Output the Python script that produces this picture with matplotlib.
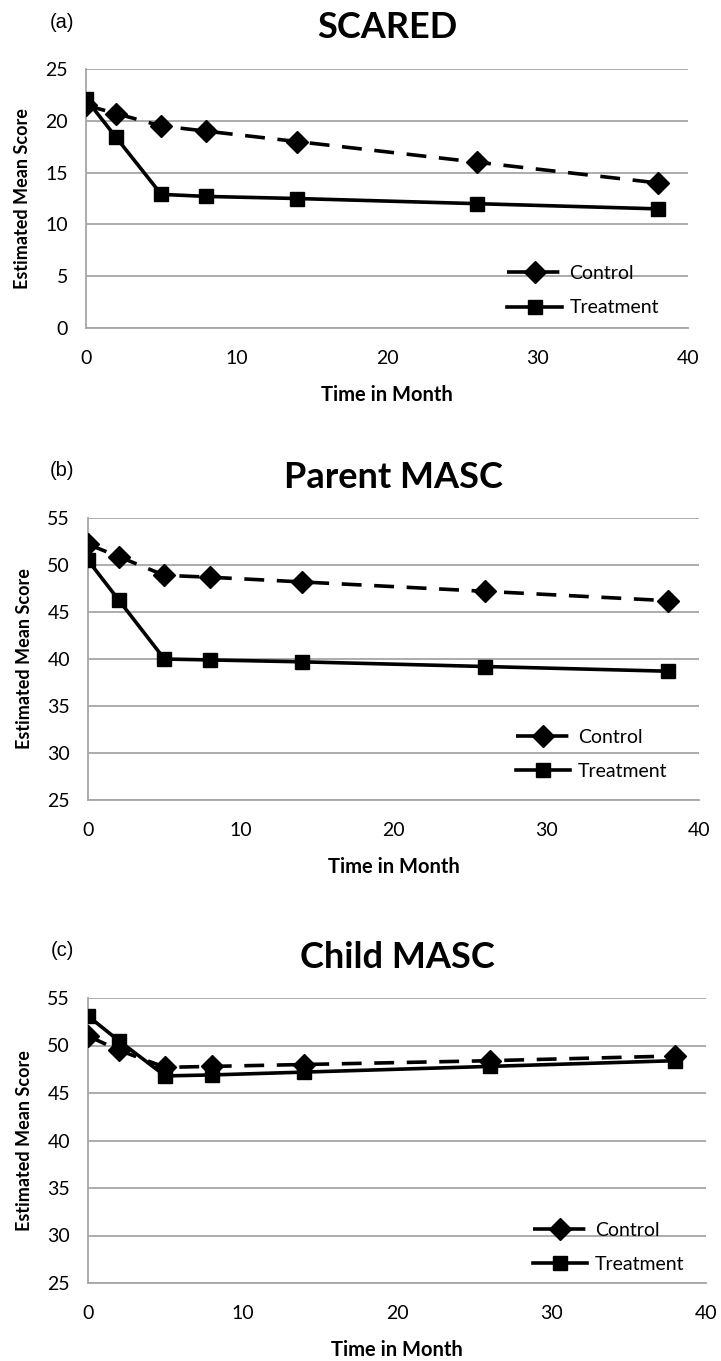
import matplotlib
matplotlib.use("Agg")
import matplotlib.pyplot as plt

plt.rcParams['font.family'] = ['Lato', 'DejaVu Sans']

# time points (months)
months = [0, 2, 5, 8, 14, 26, 38]

# estimated mean scores
scared_control = [21.5, 20.7, 19.5, 19.0, 18.0, 16.0, 14.0]
scared_treat = [22.1, 18.4, 12.9, 12.7, 12.5, 12.0, 11.5]
parent_control = [52.2, 50.9, 48.9, 48.7, 48.2, 47.2, 46.2]
parent_treat = [50.5, 46.3, 40.0, 39.9, 39.7, 39.2, 38.7]
child_control = [51.0, 49.5, 47.7, 47.8, 48.0, 48.4, 48.9]
child_treat = [53.1, 50.5, 46.8, 46.9, 47.2, 47.8, 48.4]

titles = ['SCARED', 'Parent MASC', 'Child MASC']
letters = ['(a)', '(b)', '(c)']
yticks = [[0, 5, 10, 15, 20, 25], [25, 30, 35, 40, 45, 50, 55], [25, 30, 35, 40, 45, 50, 55]]
xticks = [0, 10, 20, 30, 40]

W, H = 721, 1361
fig = plt.figure(figsize=(W / 100, H / 100), dpi=100)

# axes boxes in pixels: left, right, top, bottom
boxes = [(86, 688, 69, 328), (88, 699, 518, 800), (88, 706, 998, 1283)]
legend_pos = [(0.70, 0.045), (0.70, 0.07), (0.72, 0.035)]
data = [(scared_control, scared_treat), (parent_control, parent_treat), (child_control, child_treat)]

grid_col = '#a6a6a6'

for i in range(3):
    l, r, t, b = boxes[i]
    ax = fig.add_axes([l / W, 1 - b / H, (r - l) / W, (b - t) / H])
    ctrl, trt = data[i]
    ax.plot(months, ctrl, color='black', lw=2.6, dashes=(5.5, 3.5), marker='D', ms=11,
            label='Control', zorder=3)
    ax.plot(months, trt, color='black', lw=2.6, marker='s', ms=10,
            label='Treatment', zorder=3)
    ax.set_xlim(0, 40)
    ax.set_ylim(yticks[i][0], yticks[i][-1])
    ax.set_xticks(xticks)
    ax.set_yticks(yticks[i])
    ax.yaxis.grid(True, color=grid_col, lw=1.3)
    ax.set_axisbelow(True)
    for s in ['top', 'right']:
        ax.spines[s].set_visible(False)
    for s in ['left', 'bottom']:
        ax.spines[s].set_color(grid_col)
        ax.spines[s].set_linewidth(1.3)
    ax.tick_params(axis='both', length=0, labelsize=14)
    ax.tick_params(axis='y', pad=13)
    ax.tick_params(axis='x', pad=16)
    ax.set_xlabel('Time in Month', fontsize=14.5, fontweight='bold', labelpad=13)
    ax.set_ylabel('Estimated Mean Score', fontsize=13, fontweight='bold', labelpad=10)
    ax.legend(loc='lower left', bbox_to_anchor=legend_pos[i], frameon=False,
              fontsize=14, handlelength=2.8, handletextpad=0.4, labelspacing=0.9,
              borderpad=0, borderaxespad=0)
    cx = (l + r) / 2
    fig.text(cx / W, 1 - (t - 41) / H, titles[i], fontsize=26, fontweight='bold',
             ha='center', va='center')
    fig.text(62 / W, 1 - (t - 47) / H, letters[i], fontsize=14.5,
             family=['Liberation Sans', 'DejaVu Sans'], ha='center', va='center')

fig.savefig('out.png', dpi=100)
